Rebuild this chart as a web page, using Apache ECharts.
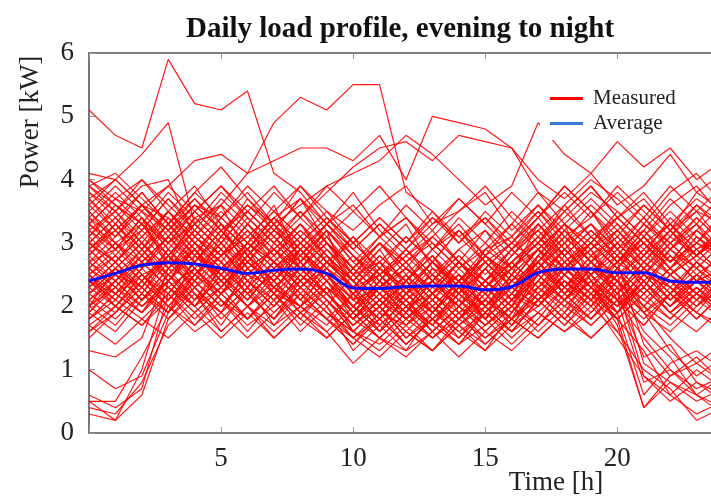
<!DOCTYPE html>
<html>
<head>
<meta charset="utf-8">
<script src="https://cdn.jsdelivr.net/npm/echarts@6/dist/echarts.min.js"></script>
<style>
  html, body { margin: 0; padding: 0; background: #fff; }
  #chart { width: 711px; height: 499px; }
</style>
</head>
<body>
<div id="chart"></div>
<script>
// Hour of day for each sample
const hours = [0,1,2,3,4,5,6,7,8,9,10,11,12,13,14,15,16,17,18,19,20,21,22,23,24];

// Measured household load profiles [kW], one row per day
const measuredProfiles = [
  [5.1,4.7,4.5,5.9,5.2,5.1,5.4,4.1,3.8,3.3,3.6,3.1,3.4,2.9,3.2,2.8,3.1,3.5,3.0,3.3,2.9,3.2,2.7,3.0,2.8],
  [4.1,4.0,4.4,4.9,3.3,3.6,4.1,4.9,5.3,5.1,5.5,5.5,3.8,3.5,3.1,3.4,2.9,3.2,3.6,3.1,3.4,3.0,3.3,2.9,3.1],
  [3.4,3.1,3.6,3.9,4.3,4.4,4.1,4.3,4.5,4.5,4.3,4.7,4.0,5.0,4.9,4.8,4.5,3.8,3.5,3.9,3.4,3.7,3.2,3.5,3.3],
  [4.0,3.7,3.5,3.2,3.6,3.4,3.8,3.3,3.6,3.9,4.1,4.3,4.7,4.4,4.0,3.6,3.9,4.9,4.4,4.1,4.6,4.2,4.5,4.0,4.3],
  [3.0,3.4,2.9,3.3,3.7,3.2,3.5,3.9,3.4,3.8,4.2,4.5,4.6,4.3,4.7,4.6,4.5,4.0,3.7,4.1,3.6,3.9,4.4,3.8,4.1],
  [0.5,0.2,0.6,1.8,2.3,1.9,2.6,2.2,2.9,2.5,2.0,2.4,1.8,2.2,2.7,2.3,1.9,2.5,2.1,2.6,2.3,0.9,0.6,0.3,0.5],
  [0.4,0.3,0.8,1.7,2.1,2.7,2.3,3.0,2.6,2.2,1.7,2.1,2.5,1.9,2.3,1.8,2.2,2.8,2.4,2.0,2.5,1.1,0.8,0.6,0.4],
  [0.3,0.2,1.0,2.4,2.9,2.4,2.0,2.5,2.1,2.7,2.3,1.9,2.4,2.8,2.2,2.6,2.1,2.4,2.9,2.5,2.1,1.5,1.0,0.7,0.9],
  [0.5,0.5,1.2,2.0,1.7,2.2,2.8,2.4,1.9,2.3,1.6,2.0,1.5,1.9,2.4,2.0,2.5,2.2,2.7,2.3,1.8,0.4,0.9,1.2,0.8],
  [1.3,1.2,1.5,2.6,3.1,2.7,3.2,2.8,3.3,2.9,2.5,2.9,2.3,2.7,2.2,2.6,3.0,2.7,3.2,2.8,3.1,2.6,2.2,2.5,2.1],
  [1.0,0.7,0.9,1.9,2.5,2.1,1.8,2.3,2.0,1.7,2.2,1.6,2.0,1.7,1.4,1.9,2.3,2.0,2.4,2.1,2.6,2.0,1.5,1.1,1.4],
  [0.6,0.4,0.7,2.2,2.7,3.1,2.6,2.9,2.4,2.8,2.2,2.5,2.9,2.4,2.0,2.4,2.8,3.2,2.7,3.0,2.6,1.9,1.3,0.9,1.2],
  [2.8,3.2,2.7,3.1,2.6,3.0,2.5,2.9,3.3,2.8,2.4,2.0,2.5,2.1,2.6,2.2,1.8,2.6,3.0,2.4,1.7,0.4,0.8,0.5,0.7],
  [2.2,2.6,3.0,2.5,2.9,2.3,2.8,2.2,2.6,3.0,2.5,2.1,1.7,2.2,1.8,2.3,2.7,3.1,2.6,2.2,1.6,1.0,0.7,0.2,0.4],
  [3.1,2.7,2.3,2.8,3.3,2.9,2.4,2.0,2.5,2.2,1.8,2.3,2.7,2.2,2.5,2.0,2.4,2.9,2.5,2.9,2.1,0.8,1.0,0.6,0.9],
  [2.5,2.0,2.4,2.9,2.4,2.8,3.1,2.7,2.3,2.7,2.3,1.7,2.1,1.6,2.0,2.4,2.0,2.3,2.8,2.3,1.8,1.3,0.6,1.0,0.7],
  [1.9,2.4,2.8,3.3,2.8,2.4,2.9,3.4,2.9,2.5,2.1,2.6,2.2,2.7,2.3,1.9,2.3,2.7,2.2,2.6,2.2,1.2,1.4,0.8,0.5],
  [3.5,3.1,3.6,3.2,2.7,3.2,2.8,2.4,2.8,2.4,2.8,2.3,1.9,2.4,2.0,2.6,2.1,2.5,2.1,2.5,1.9,0.6,1.1,1.3,1.0],
  [2.0,1.7,2.2,2.7,2.3,1.8,2.2,1.8,2.4,2.0,1.5,1.9,1.4,1.8,1.5,2.0,1.6,2.1,1.7,2.1,1.5,0.9,0.5,0.8,0.6],
  [2.7,2.3,2.0,2.4,2.0,2.5,2.1,2.6,2.2,1.8,2.2,1.8,2.3,1.9,2.4,2.8,2.3,2.0,2.4,2.0,2.4,1.6,1.2,0.6,0.3],
  [3.3,2.9,3.4,2.9,3.4,3.0,3.5,3.1,2.7,3.1,2.6,3.0,2.6,2.2,2.7,2.3,2.8,3.3,2.9,3.3,2.7,1.4,0.9,1.1,0.8],
  [3.9,3.5,4.0,3.6,3.2,3.7,3.3,3.8,3.4,3.9,3.5,3.1,3.6,3.2,3.7,3.3,2.9,3.4,3.8,3.4,3.9,3.5,3.1,3.6,3.2],
  [3.6,4.0,3.6,3.1,3.5,3.9,3.4,3.0,3.4,3.0,2.6,3.0,2.5,2.9,3.4,3.0,3.5,3.1,3.5,3.9,3.4,3.8,3.3,3.7,3.4],
  [3.2,2.8,3.3,3.8,3.4,3.0,3.5,3.1,2.7,3.2,2.8,2.4,2.9,2.5,2.1,2.6,3.0,3.5,3.1,2.7,3.1,2.7,3.2,2.8,3.2],
  [2.9,3.3,3.8,3.3,2.9,2.5,3.0,3.4,3.0,2.6,2.2,2.6,2.2,2.7,2.3,2.8,2.4,2.9,3.3,3.0,2.6,3.1,2.7,3.2,2.9],
  [2.6,3.0,2.6,3.1,3.6,3.2,2.7,3.1,2.6,3.0,2.6,2.2,1.8,2.2,2.7,2.2,2.6,3.0,2.6,3.0,3.4,3.0,2.6,3.0,2.7],
  [2.3,2.7,3.2,2.8,2.3,2.8,3.3,2.8,3.2,2.8,2.3,1.9,2.3,1.9,2.3,1.8,2.2,2.6,3.1,2.7,2.3,2.8,3.2,2.8,2.5],
  [2.1,2.5,2.1,2.6,3.0,2.5,2.0,2.4,2.9,2.5,2.0,2.5,2.1,1.7,2.1,1.7,2.1,2.5,2.1,2.6,3.0,2.6,2.2,2.6,2.3],
  [1.8,2.2,2.7,2.3,1.9,2.3,1.8,2.2,1.7,2.1,1.6,2.0,1.6,2.0,1.5,1.9,1.6,2.1,1.7,2.2,2.6,2.2,2.6,2.2,2.0],
  [1.6,2.0,1.7,2.2,1.7,2.1,1.6,2.1,1.6,2.0,1.3,1.7,1.3,1.6,1.2,1.6,2.0,1.7,2.2,1.8,2.2,1.8,2.2,1.9,1.6],
  [2.4,2.0,1.7,2.1,2.6,2.1,1.7,2.0,2.5,2.1,1.6,1.3,1.7,2.1,1.7,1.3,1.7,2.2,1.8,1.5,1.9,2.4,2.0,2.4,2.1],
  [3.0,2.6,2.2,1.8,2.2,1.6,2.0,1.6,2.0,1.6,1.1,1.5,1.9,1.5,1.9,1.5,1.8,1.5,1.9,2.3,1.9,2.3,2.8,2.4,2.6],
  [3.7,3.3,2.9,3.4,3.0,2.6,3.0,2.6,3.0,3.4,3.0,2.6,3.1,2.7,3.2,2.7,2.3,2.7,3.2,2.8,3.2,2.8,3.4,3.0,3.5],
  [2.7,3.1,3.5,3.0,3.5,3.9,3.5,3.1,3.5,3.1,3.5,3.9,3.4,3.0,2.6,3.0,2.6,3.0,2.6,3.1,2.7,3.2,3.7,3.3,3.8],
  [2.0,2.4,2.0,2.4,2.0,2.5,2.1,2.6,2.2,2.6,2.2,1.8,1.4,1.8,2.2,1.8,1.4,1.8,2.3,1.9,2.4,2.0,2.5,2.1,2.4],
  [2.5,2.1,2.6,2.2,2.7,2.3,2.8,2.4,2.9,2.4,2.0,1.6,2.0,2.4,2.0,2.4,2.0,2.6,2.2,2.7,2.2,2.6,2.1,2.5,2.2],
  [3.4,3.8,3.4,2.9,2.5,2.9,2.4,2.8,2.3,2.7,2.3,2.8,2.4,2.8,2.4,2.0,2.5,2.1,2.5,2.1,2.6,3.0,2.6,3.1,2.7],
  [2.2,1.9,2.3,2.8,2.4,2.0,2.4,2.0,2.4,2.8,2.4,2.0,2.4,2.0,1.7,2.1,1.7,2.3,2.7,2.3,2.8,2.3,1.9,2.3,1.9],
  [3.8,3.4,3.0,2.6,3.1,2.7,2.2,2.7,2.3,2.7,2.3,2.7,2.2,1.8,2.2,2.6,2.2,2.7,2.3,2.8,2.4,2.0,2.4,2.0,2.4],
  [1.5,1.9,2.3,1.9,2.4,2.0,2.5,2.1,2.6,2.2,1.8,2.2,1.8,2.2,1.8,2.2,1.8,2.2,1.8,2.3,1.9,2.4,1.9,1.6,2.0],
  [2.9,2.5,2.1,2.5,2.1,2.6,2.2,1.8,2.2,1.8,1.4,1.8,1.4,1.8,1.4,1.9,1.5,1.9,1.6,2.0,1.6,2.0,1.7,2.1,1.8],
  [3.5,3.9,3.5,3.9,3.5,3.1,3.6,3.2,3.7,3.3,2.9,3.3,2.9,3.3,3.7,3.3,3.8,3.4,3.9,3.5,3.0,3.4,3.0,3.4,3.0],
  [2.6,2.3,2.8,3.2,2.8,3.3,2.9,3.4,3.0,2.6,2.2,2.6,2.2,2.6,2.2,2.7,2.3,2.8,3.3,2.9,3.4,3.0,2.6,3.1,2.8],
  [1.9,2.3,1.9,2.4,2.0,1.6,2.0,1.5,1.9,1.5,1.9,1.5,1.2,1.6,2.0,1.6,2.0,1.6,2.0,1.7,2.1,1.7,2.2,1.8,2.2],
  [3.1,3.5,3.1,3.5,3.1,3.5,3.1,3.5,3.1,3.5,3.0,3.4,3.0,3.5,3.0,3.4,3.0,3.4,2.9,3.3,2.9,3.4,3.9,3.5,3.9],
  [2.3,2.0,2.5,2.1,2.6,2.2,1.8,2.2,1.8,2.3,1.9,2.4,2.0,1.6,2.0,1.6,1.3,1.7,2.1,2.6,2.2,2.6,2.2,2.7,2.3],
  [4.0,3.6,3.2,3.7,3.3,3.8,3.4,3.0,2.6,3.0,2.6,3.1,2.7,3.1,2.7,3.2,2.8,3.2,2.8,3.2,2.8,3.3,2.9,3.4,3.0],
  [2.8,3.3,2.9,2.5,2.9,2.5,2.9,2.5,2.9,2.4,1.9,2.3,1.9,2.3,2.7,2.3,2.7,3.1,2.7,3.1,2.7,3.1,2.6,2.9,2.5],
  [1.7,1.4,1.8,2.2,1.8,2.2,1.8,2.2,1.8,1.5,1.9,1.5,1.9,1.5,1.9,1.4,1.8,1.5,1.9,1.5,1.9,2.3,1.9,2.3,1.9],
  [3.3,3.7,3.3,2.8,3.2,2.8,3.2,2.7,3.1,2.7,3.1,2.7,3.1,2.7,3.2,2.8,3.3,3.8,3.3,3.7,3.3,2.9,3.3,2.8,3.2],
  [2.4,2.8,2.4,2.0,2.4,2.0,2.4,2.0,2.5,2.1,1.7,2.1,2.5,2.1,1.7,2.1,2.6,2.2,2.6,2.2,2.6,2.2,2.6,2.2,2.6],
  [3.7,3.2,3.6,3.2,3.7,3.3,2.9,3.3,2.9,3.3,2.8,2.4,2.8,2.4,2.8,2.4,2.9,2.5,2.9,2.5,2.9,2.5,2.9,2.5,2.8],
  [2.1,1.8,2.2,1.9,2.3,1.9,2.3,1.9,2.3,1.9,1.5,1.2,1.6,1.3,1.7,1.4,1.8,2.2,1.8,2.2,1.8,2.2,1.8,2.2,1.9],
  [2.9,3.2,3.6,3.2,3.6,3.2,2.8,3.2,2.8,3.3,2.9,3.3,2.9,2.5,2.9,2.5,2.9,2.5,2.9,2.5,3.0,2.6,3.0,2.6,3.0],
  [3.9,4.1,3.7,3.3,3.8,3.4,3.9,3.5,3.9,3.4,3.0,3.4,3.0,3.4,3.0,3.5,3.1,3.6,3.2,3.6,3.2,3.6,3.2,3.6,3.3],
  [2.5,2.2,2.6,3.0,2.6,2.2,2.6,2.2,2.6,2.2,1.8,2.2,1.8,2.2,1.8,1.5,1.9,2.4,2.0,2.4,2.0,2.4,2.0,2.4,2.0],
  [1.8,2.1,1.8,1.5,1.9,1.5,1.9,1.5,1.9,1.6,2.0,1.6,2.0,1.6,2.0,1.7,2.1,1.7,2.1,1.7,2.1,1.7,2.2,1.8,2.2],
  [3.0,2.7,3.1,2.7,3.2,2.8,3.3,2.9,2.5,2.9,2.4,2.0,2.4,2.0,2.4,2.0,2.4,2.9,2.5,3.0,2.6,3.1,2.7,3.2,2.8],
  [2.2,2.6,3.0,3.5,3.1,3.6,3.2,2.8,3.2,2.8,2.4,2.8,2.4,2.8,2.3,2.7,2.3,2.7,3.1,2.7,3.2,2.8,3.2,2.8,3.3],
  [2.7,2.9,3.4,2.6,2.4,3.1,2.9,2.3,2.7,3.2,2.1,2.3,1.9,2.6,2.4,1.8,2.5,2.9,3.3,2.4,2.7,3.0,2.5,2.8,3.1],
  [3.3,3.0,2.5,2.7,3.4,3.6,2.8,3.2,3.7,3.0,2.4,2.9,3.3,2.6,2.2,2.9,3.1,2.6,3.0,3.5,2.9,2.5,3.0,3.3,2.7],
  [2.0,2.6,2.3,1.9,2.8,2.5,3.0,3.6,2.7,2.3,2.0,1.6,2.2,2.5,1.9,2.1,2.7,2.3,1.9,2.5,2.8,2.3,2.9,2.6,2.2],
  [3.8,3.5,3.9,4.0,3.1,2.8,3.3,2.9,2.6,3.1,2.5,2.7,2.2,2.4,2.9,3.2,2.6,3.0,3.4,3.8,3.5,3.1,3.6,3.9,3.4],
  [2.4,2.2,1.9,2.5,2.2,1.7,2.3,2.7,2.1,1.8,1.4,1.9,1.7,1.3,1.8,2.2,1.7,2.0,2.5,2.2,1.9,2.5,2.3,1.9,2.4],
  [3.1,3.6,3.3,2.7,2.3,2.6,3.0,2.7,2.4,2.0,2.5,3.0,2.6,3.1,2.7,2.3,2.0,2.8,2.5,2.1,2.7,3.2,2.8,2.4,2.9],
  [2.8,2.4,2.9,3.5,3.9,3.3,2.6,2.2,2.0,2.6,3.1,2.5,2.0,1.7,2.3,2.8,2.5,3.3,2.8,2.3,2.0,2.6,3.1,3.5,3.0],
  [1.7,2.0,2.5,2.0,1.6,1.9,2.3,1.7,2.0,2.4,1.8,1.5,1.3,1.9,1.6,1.3,1.9,2.4,2.1,1.8,2.3,1.9,1.6,2.0,2.3],
  [3.6,3.2,2.8,3.3,3.8,4.2,3.7,3.3,3.9,3.5,3.2,3.6,3.9,3.3,3.5,3.9,3.4,3.0,3.6,4.0,3.7,3.3,3.8,4.1,3.6],
  [2.9,2.5,2.3,2.9,2.5,3.0,2.6,2.9,3.3,2.7,2.3,2.5,2.1,2.4,2.8,2.4,2.1,2.6,3.0,2.6,2.2,2.7,2.4,2.1,2.6],
  [2.2,2.5,2.9,2.4,3.0,2.7,2.2,2.5,2.1,2.5,2.0,2.3,2.7,2.2,1.9,2.3,2.6,2.9,2.3,2.6,2.4,1.9,2.2,2.7,2.3],
  [3.4,2.9,3.2,3.7,3.2,2.8,3.1,3.5,3.1,2.7,2.4,2.0,2.4,2.9,3.3,2.8,2.5,2.9,2.6,3.0,3.5,3.1,2.7,3.0,3.4],
  [2.6,3.0,3.3,2.8,2.5,2.2,2.7,3.2,2.8,2.5,1.9,2.3,2.0,2.2,1.8,2.3,1.9,2.4,2.9,2.5,2.9,2.4,2.0,2.5,2.1],
  [1.9,1.6,2.1,2.6,2.1,2.4,2.0,1.7,2.2,1.8,1.5,1.8,2.2,1.8,1.4,1.7,2.1,2.7,2.2,1.8,2.2,2.7,2.3,2.0,2.5],
  [3.9,3.6,3.3,3.0,3.5,3.1,3.7,3.2,2.9,3.3,3.8,3.2,2.8,3.1,3.5,3.8,3.2,3.6,3.1,3.4,3.8,3.4,2.9,3.2,3.6],
  [2.5,2.8,2.4,2.0,2.5,2.9,2.4,2.1,2.4,2.9,2.5,2.1,1.8,2.1,2.5,2.1,1.8,2.3,2.6,2.3,2.7,2.4,2.8,2.4,2.6],
  [3.2,3.5,3.0,2.6,2.9,2.4,2.8,3.3,2.6,2.2,1.8,2.3,2.6,2.3,2.0,2.4,2.9,3.3,2.8,3.2,2.8,3.3,3.0,2.6,3.0],
  [2.3,2.7,2.2,2.8,3.3,2.9,2.5,2.3,2.7,2.2,2.6,2.2,1.9,2.4,2.1,1.8,2.2,2.0,2.5,2.9,2.4,2.1,2.5,2.9,2.5],
  [3.0,3.4,3.8,3.3,2.8,3.4,3.0,2.6,2.9,2.5,2.1,2.6,2.3,1.9,2.4,2.7,2.3,2.8,3.2,2.7,2.4,2.9,3.3,2.9,3.2],
  [2.1,2.4,2.0,2.3,1.9,2.3,2.7,2.3,2.0,2.4,2.0,1.7,2.1,1.7,2.2,1.8,2.2,1.9,2.3,2.0,2.5,2.1,1.8,2.2,2.6],
  [3.5,3.0,2.7,3.1,2.7,3.2,3.6,3.3,2.8,3.2,2.7,3.1,3.4,2.9,2.5,2.2,2.6,3.0,3.5,3.1,2.7,3.1,3.5,3.1,2.8],
  [2.7,2.4,2.8,2.5,2.0,2.3,2.8,2.4,2.8,3.2,2.7,2.3,2.6,2.2,2.5,2.0,2.3,2.6,2.3,2.7,3.0,2.6,2.3,2.7,2.4],
  [1.6,1.9,2.4,2.8,2.2,1.9,1.5,1.9,2.3,1.9,1.6,2.0,1.6,1.3,1.7,2.0,1.6,1.9,1.6,1.9,2.3,1.9,2.3,1.9,1.7],
  [3.7,4.0,3.6,3.4,2.9,3.3,2.9,3.4,3.7,3.2,2.8,2.5,2.9,3.4,3.1,2.7,3.0,3.4,3.9,3.5,3.1,3.6,3.2,3.8,3.5],
  [2.4,2.1,2.6,3.1,2.7,3.2,2.7,2.4,2.0,2.3,1.9,2.4,2.1,2.5,2.2,1.9,2.4,2.1,2.6,2.3,2.0,2.4,2.0,2.3,2.0],
  [2.9,3.3,2.8,2.4,2.8,2.5,2.1,2.6,3.0,2.6,2.3,2.7,2.4,2.0,2.4,2.8,2.4,2.7,2.3,2.8,2.5,2.8,3.2,2.7,3.1],
  [2.0,2.3,2.7,2.3,2.6,2.2,2.5,2.9,2.5,2.1,1.7,2.0,1.5,1.8,2.1,1.7,2.0,2.5,2.1,2.4,2.0,2.3,1.9,2.2,1.8],
  [3.3,3.7,4.0,3.5,3.0,3.4,3.0,2.7,3.1,2.7,3.0,2.6,2.3,2.7,2.4,2.9,2.6,3.1,2.8,3.2,2.8,2.5,2.9,3.3,2.9],
  [2.6,2.2,2.5,2.1,2.5,2.8,2.3,2.7,2.3,2.6,2.1,1.8,2.2,1.9,2.3,2.0,1.6,2.1,2.4,2.1,2.5,2.9,2.5,2.2,2.6],
  [3.0,2.7,3.1,3.5,3.0,2.6,2.9,2.5,3.0,3.4,2.9,2.5,2.8,3.2,2.7,2.4,2.7,3.0,2.6,2.9,3.3,2.8,2.5,2.8,3.2],
  [2.3,2.6,2.1,2.4,2.9,2.4,2.0,2.3,1.9,2.2,1.8,2.1,1.7,2.0,1.6,1.9,2.3,2.6,2.2,2.5,2.1,2.5,2.1,2.4,2.1],
  [1.8,2.2,1.9,2.3,2.0,2.6,2.2,1.8,2.3,1.9,1.6,1.4,1.8,1.5,1.8,2.1,1.8,2.1,2.5,2.1,1.8,2.2,2.6,2.2,1.9],
  [3.2,2.9,3.4,3.0,3.3,2.9,3.4,3.0,3.5,3.0,2.6,3.0,2.7,3.0,2.6,2.9,3.3,2.9,3.3,2.9,3.2,2.7,3.1,2.8,3.1],
  [2.5,2.9,2.5,2.2,2.7,2.3,2.7,2.3,2.6,2.2,2.6,2.2,2.6,2.3,2.7,2.3,2.7,2.3,2.0,2.4,2.1,2.5,2.1,2.5,2.2]
];

// Mean profile over all days [kW]
const averageProfile = [2.40,2.52,2.65,2.69,2.67,2.60,2.52,2.57,2.59,2.52,2.29,2.28,2.31,2.32,2.32,2.26,2.31,2.53,2.59,2.59,2.53,2.53,2.40,2.38,2.38];

const xTicks = [5, 10, 15, 20];
const yTicks = [0, 1, 2, 3, 4, 5, 6];

const serif = '"Liberation Serif", "Times New Roman", "DejaVu Serif", serif';
const pair = (vals) => hours.map((h, i) => [h, vals[i]]);

const measuredSeries = measuredProfiles.map((row) => ({
  name: 'Measured',
  type: 'line',
  data: pair(row),
  symbol: 'none',
  silent: true,
  z: 2,
  lineStyle: { color: 'rgba(255,0,0,0.9)', width: 1.2 },
  itemStyle: { color: '#ff0000' }
}));

const averageSeries = {
  name: 'Average',
  type: 'line',
  data: pair(averageProfile),
  symbol: 'none',
  smooth: 0.35,
  silent: true,
  z: 5,
  lineStyle: { color: '#0a0aff', width: 3 },
  itemStyle: { color: '#0a0aff' }
};

const axisLineStyle = { color: '#555', width: 1.6 };
const tickStyle = { color: '#999', width: 1 };

const chart = echarts.init(document.getElementById('chart'), null, { renderer: 'canvas' });
chart.setOption({
  animation: false,
  backgroundColor: '#fff',
  title: {
    text: 'Daily load profile, evening to night',
    left: 186,
    top: 15,
    padding: 0,
    textStyle: { fontFamily: serif, fontWeight: 'bold', fontSize: 29, color: '#111' }
  },
  legend: {
    orient: 'vertical',
    left: 540,
    top: 82,
    padding: [6, 14, 6, 10],
    backgroundColor: '#fff',
    icon: 'rect',
    itemWidth: 33,
    itemHeight: 3,
    itemGap: 4,
    selectedMode: false,
    textStyle: { fontFamily: serif, fontSize: 21, color: '#222', lineHeight: 21, padding: [0, 0, 0, 5] },
    data: [
      { name: 'Measured', itemStyle: { color: '#ff0000' } },
      { name: 'Average', itemStyle: { color: '#3a78d8' } }
    ]
  },
  // the plot runs past the right edge of the canvas (24 h at x = 723)
  grid: { left: 89, width: 634, top: 53, bottom: 66, outerBoundsMode: 'none' },
  xAxis: [
    {
      type: 'value', min: 0, max: 24, interval: 5,
      axisLine: { show: true, lineStyle: axisLineStyle },
      axisTick: { show: true, inside: true, length: 6, lineStyle: tickStyle },
      splitLine: { show: false },
      axisLabel: {
        fontFamily: serif, fontSize: 27, color: '#222', margin: 12,
        formatter: (v) => (xTicks.indexOf(v) >= 0 ? String(v) : '')
      }
    },
    {
      type: 'value', position: 'top', min: 0, max: 24, interval: 5,
      axisLine: { show: true, lineStyle: axisLineStyle },
      axisTick: { show: true, inside: true, length: 6, lineStyle: tickStyle },
      splitLine: { show: false },
      axisLabel: { show: false }
    }
  ],
  yAxis: {
    type: 'value', min: 0, max: 6, interval: 1,
    axisLine: { show: true, lineStyle: axisLineStyle },
    axisTick: { show: true, inside: true, length: 6, lineStyle: tickStyle },
    splitLine: { show: false },
    axisLabel: {
      fontFamily: serif, fontSize: 27, color: '#222', margin: 15,
      formatter: (v) => (yTicks.indexOf(v) >= 0 ? String(v) : '')
    }
  },
  graphic: [
    {
      type: 'text', x: 31, y: 122, rotation: Math.PI / 2, silent: true,
      style: {
        text: 'Power [kW]', font: '27px ' + serif, fill: '#222',
        align: 'center', verticalAlign: 'middle',
        textAlign: 'center', textVerticalAlign: 'middle'
      }
    },
    {
      type: 'text', x: 556, y: 483, silent: true,
      style: {
        text: 'Time [h]', font: '27px ' + serif, fill: '#222',
        align: 'center', verticalAlign: 'middle',
        textAlign: 'center', textVerticalAlign: 'middle'
      }
    }
  ],
  series: measuredSeries.concat([averageSeries])
});
</script>
</body>
</html>
